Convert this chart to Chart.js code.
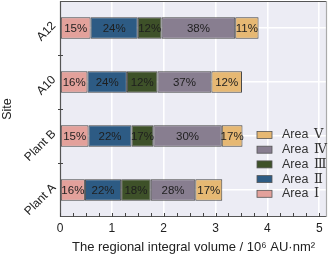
<!DOCTYPE html>
<html lang="en">
<head>
    <meta charset="UTF-8">
    <title>Regional integral volume by site</title>
    <script src="https://cdn.jsdelivr.net/npm/chart.js"></script>
    <style>
        html, body { margin: 0; padding: 0; background: #fff; }
        #wrap { width: 331px; height: 257px; }
    </style>
</head>
<body>
    <div id="wrap"><canvas id="siteChart"></canvas></div>
    <script>
        // sites, top to bottom
        const sites = ['A12', 'A10', 'Plant B', 'Plant A'];

        // segment lengths (10^6 AU·nm^2)
        const areaI   = [0.59, 0.53, 0.55, 0.48];
        const areaII  = [0.91, 0.76, 0.83, 0.70];
        const areaIII = [0.46, 0.59, 0.42, 0.57];
        const areaIV  = [1.42, 1.04, 1.32, 0.86];
        const areaV   = [0.45, 0.59, 0.40, 0.52];

        // percentage text printed in each segment
        const pctI   = ['15%', '16%', '15%', '16%'];
        const pctII  = ['24%', '24%', '22%', '22%'];
        const pctIII = ['12%', '12%', '17%', '18%'];
        const pctIV  = ['38%', '37%', '30%', '28%'];
        const pctV   = ['11%', '12%', '17%', '17%'];

        const areaNames = ['Ⅰ', 'Ⅱ', 'Ⅲ', 'Ⅳ', 'Ⅴ'];
        const areaColors = ['#E3A19B', '#2D5B84', '#3E5129', '#887E90', '#E6B873'];
        const xTicks = [0, 1, 2, 3, 4, 5];

        const FONT = '"Liberation Sans", Arial, sans-serif';
        const values = [areaI, areaII, areaIII, areaIV, areaV];
        const pcts = [pctI, pctII, pctIII, pctIV, pctV];

        // background, frame, minor ticks
        const framePlugin = {
            id: 'frame',
            beforeDraw(chart) {
                const { ctx, chartArea: a } = chart;
                ctx.save();
                ctx.fillStyle = '#ECECF4';
                ctx.fillRect(a.left, a.top, a.right - a.left, a.bottom - a.top);
                ctx.restore();
            },
            afterDraw(chart) {
                const { ctx, chartArea: a } = chart;
                const xs = chart.scales.x, ys = chart.scales.y;
                ctx.save();
                ctx.strokeStyle = '#555';
                ctx.lineWidth = 1.2;
                ctx.beginPath();
                ctx.moveTo(a.right, a.top + 0.5);
                ctx.lineTo(a.left + 0.5, a.top + 0.5);
                ctx.lineTo(a.left + 0.5, a.bottom - 0.5);
                ctx.lineTo(a.right, a.bottom - 0.5);
                ctx.stroke();
                ctx.strokeStyle = '#aaa';
                ctx.beginPath();
                ctx.moveTo(a.right - 0.5, a.top);
                ctx.lineTo(a.right - 0.5, a.bottom);
                ctx.stroke();

                // x ticks every 0.25, pointing inward
                ctx.strokeStyle = '#444';
                ctx.lineWidth = 1;
                for (let v = 0; v <= 5; v += 0.25) {
                    const px = Math.round(xs.getPixelForValue(v)) + 0.5;
                    ctx.beginPath();
                    ctx.moveTo(px, a.bottom);
                    ctx.lineTo(px, a.bottom - 4);
                    ctx.stroke();
                }
                // y ticks between sites
                for (let i = 0; i < sites.length - 1; i++) {
                    const py = Math.round((ys.getPixelForValue(i) + ys.getPixelForValue(i + 1)) / 2) + 0.5;
                    ctx.beginPath();
                    ctx.moveTo(a.left - 2, py);
                    ctx.lineTo(a.left + 3, py);
                    ctx.stroke();
                }
                ctx.restore();
            }
        };

        // percentage labels and legend
        const labelPlugin = {
            id: 'labels',
            afterDatasetsDraw(chart) {
                const ctx = chart.ctx;
                ctx.save();
                ctx.font = '11.5px ' + FONT;
                ctx.fillStyle = '#1e1e1e';
                ctx.textAlign = 'center';
                ctx.textBaseline = 'middle';
                chart.data.datasets.forEach((ds, i) => {
                    chart.getDatasetMeta(i).data.forEach((bar, j) => {
                        ctx.fillText(pcts[i][j], (bar.x + bar.base) / 2, bar.y + 0.5);
                    });
                });
                ctx.restore();
            },
            afterDraw(chart) {
                const ctx = chart.ctx;
                ctx.save();
                ctx.textBaseline = 'middle';
                for (let k = 0; k < 5; k++) {
                    const i = 4 - k;
                    const y = 135 + k * 14.7;
                    ctx.fillStyle = areaColors[i];
                    ctx.fillRect(257, y - 3.5, 15, 7);
                    ctx.strokeStyle = '#555';
                    ctx.lineWidth = 0.8;
                    ctx.strokeRect(257, y - 3.5, 15, 7);
                    ctx.fillStyle = '#333';
                    ctx.font = '12.5px ' + FONT;
                    ctx.fillText('Area', 282, y);
                    const w = ctx.measureText('Area ').width;
                    ctx.font = '13px "Liberation Serif", "DejaVu Serif", serif';
                    ctx.fillText(areaNames[i], 282 + w + 2, y);
                }
                ctx.restore();
            }
        };

        new Chart(document.getElementById('siteChart'), {
            type: 'bar',
            data: {
                labels: sites,
                datasets: values.map((v, i) => ({
                    label: 'Area ' + areaNames[i],
                    data: v,
                    backgroundColor: areaColors[i],
                    borderColor: '#444',
                    borderWidth: 1,
                    borderSkipped: false,
                    barPercentage: 0.4,
                    categoryPercentage: 1
                }))
            },
            options: {
                indexAxis: 'y',
                responsive: true,
                maintainAspectRatio: false,
                animation: false,
                layout: { padding: { top: 1, right: 4, left: 0, bottom: 0 } },
                plugins: { legend: { display: false }, tooltip: { enabled: false } },
                scales: {
                    x: {
                        stacked: true,
                        min: 0,
                        max: 5.15,
                        afterBuildTicks(scale) {
                            scale.ticks = xTicks.map(v => ({ value: v }));
                        },
                        ticks: {
                            color: '#222',
                            font: { family: FONT, size: 12 },
                            padding: 4,
                            autoSkip: false,
                            maxRotation: 0
                        },
                        grid: { color: '#fff', lineWidth: 1.6, drawTicks: false },
                        border: { display: false },
                        title: {
                            display: true,
                            text: 'The regional integral volume / 10⁶ AU·nm²',
                            color: '#222',
                            font: { family: FONT, size: 13 },
                            padding: { top: 0, bottom: 2 }
                        },
                        afterFit(scale) {
                            scale.height = 40;
                            scale.paddingLeft = 0;
                            scale.paddingRight = 0;
                        }
                    },
                    y: {
                        stacked: true,
                        ticks: {
                            color: '#222',
                            font: { family: FONT, size: 12 },
                            minRotation: 45,
                            maxRotation: 45,
                            padding: 6,
                            labelOffset: -4
                        },
                        grid: { color: '#fff', lineWidth: 1.6, offset: false, drawTicks: false },
                        border: { display: false },
                        title: {
                            display: true,
                            text: 'Site',
                            color: '#222',
                            font: { family: FONT, size: 12.5 },
                            padding: 0
                        },
                        afterFit(scale) {
                            scale.width = 60;
                            scale.paddingTop = 0;
                            scale.paddingBottom = 0;
                        }
                    }
                }
            },
            plugins: [framePlugin, labelPlugin]
        });
    </script>
</body>
</html>
